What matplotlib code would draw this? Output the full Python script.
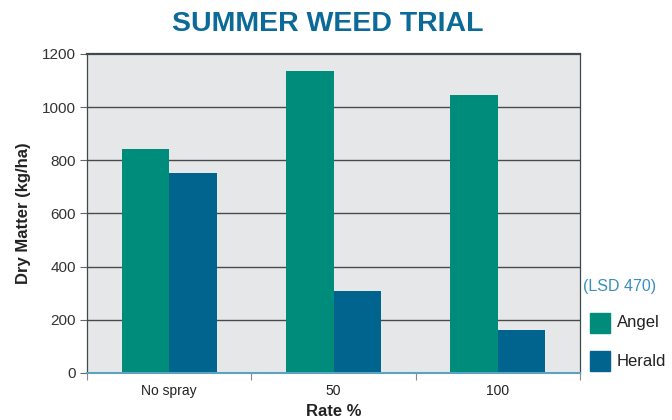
import matplotlib
matplotlib.use("Agg")
import matplotlib.pyplot as plt
import numpy as np
from matplotlib.patches import Rectangle

categories = ["No spray", "50", "100"]
angel = [843, 1137, 1046]
herald = [752, 308, 160]
series_names = ["Angel", "Herald"]
yticks = [0, 200, 400, 600, 800, 1000, 1200]

c_angel = "#008c7a"
c_herald = "#00648f"
title_c = "#0b6a97"
grid_c = "#4a4a4a"

plt.rcParams['font.family'] = ['Liberation Sans', 'DejaVu Sans']

fig = plt.figure(figsize=(6.72, 4.2), dpi=100)
ax = fig.add_axes([87/672, 47/420, (580-87)/672, (373-54)/420])
ax.set_facecolor("#e6e7e8")

x = np.arange(len(categories))
w = 0.29
ax.bar(x - w/2, angel, w, color=c_angel, zorder=3, label=series_names[0])
ax.bar(x + w/2, herald, w, color=c_herald, zorder=3, label=series_names[1])

ax.set_xlim(-0.5, len(categories) - 0.5)
ax.set_ylim(0, 1200)
ax.set_yticks(yticks)
ax.set_yticklabels([str(v) for v in yticks], fontsize=11, color="#333333")
ax.set_xticks(x)
ax.set_xticklabels(categories, fontsize=10, color="#222222")
ax.tick_params(axis='x', length=0, pad=8)
ax.set_xticks(np.arange(-0.5, len(categories)), minor=True)
ax.tick_params(axis='x', which='minor', length=5, color="#888888", width=0.8)
ax.tick_params(axis='y', length=5, color="#666666", width=0.8, pad=3)

for v in yticks[1:-1]:
    ax.axhline(v, color=grid_c, lw=1.0, zorder=2)

for s in ["top", "left", "right"]:
    ax.spines[s].set_color("#3f4a4f")
ax.spines["top"].set_linewidth(1.6)
ax.spines["left"].set_linewidth(0.9)
ax.spines["right"].set_linewidth(0.9)
ax.spines["bottom"].set_color("#5ba3c0")
ax.spines["bottom"].set_linewidth(1.5)
ax.spines["bottom"].set_zorder(4)

ax.set_ylabel("Dry Matter (kg/ha)", fontsize=12, fontweight="bold", color="#222222", labelpad=8)
ax.set_xlabel("Rate %", fontsize=12, fontweight="bold", color="#222222", labelpad=4)

fig.text(328/672, 1 - 24/420, "SUMMER WEED TRIAL",
         family=['Liberation Sans Narrow', 'Liberation Sans', 'DejaVu Sans'],
         fontsize=20.5, fontweight="bold", color=title_c, ha="center", va="center")

fig.text(583/672, 1 - 287/420, "(LSD 470)", fontsize=11.5, color="#3a8fbf", ha="left", va="center")
for i, (name, col, yc) in enumerate([(series_names[0], c_angel, 323), (series_names[1], c_herald, 361)]):
    fig.patches.append(Rectangle((590/672, 1 - (yc + 10)/420), 20/672, 20/420,
                                 transform=fig.transFigure, color=col, figure=fig))
    fig.text(617/672, 1 - yc/420, name, fontsize=12, color="#222222", ha="left", va="center")

fig.savefig("out.png", dpi=100)
